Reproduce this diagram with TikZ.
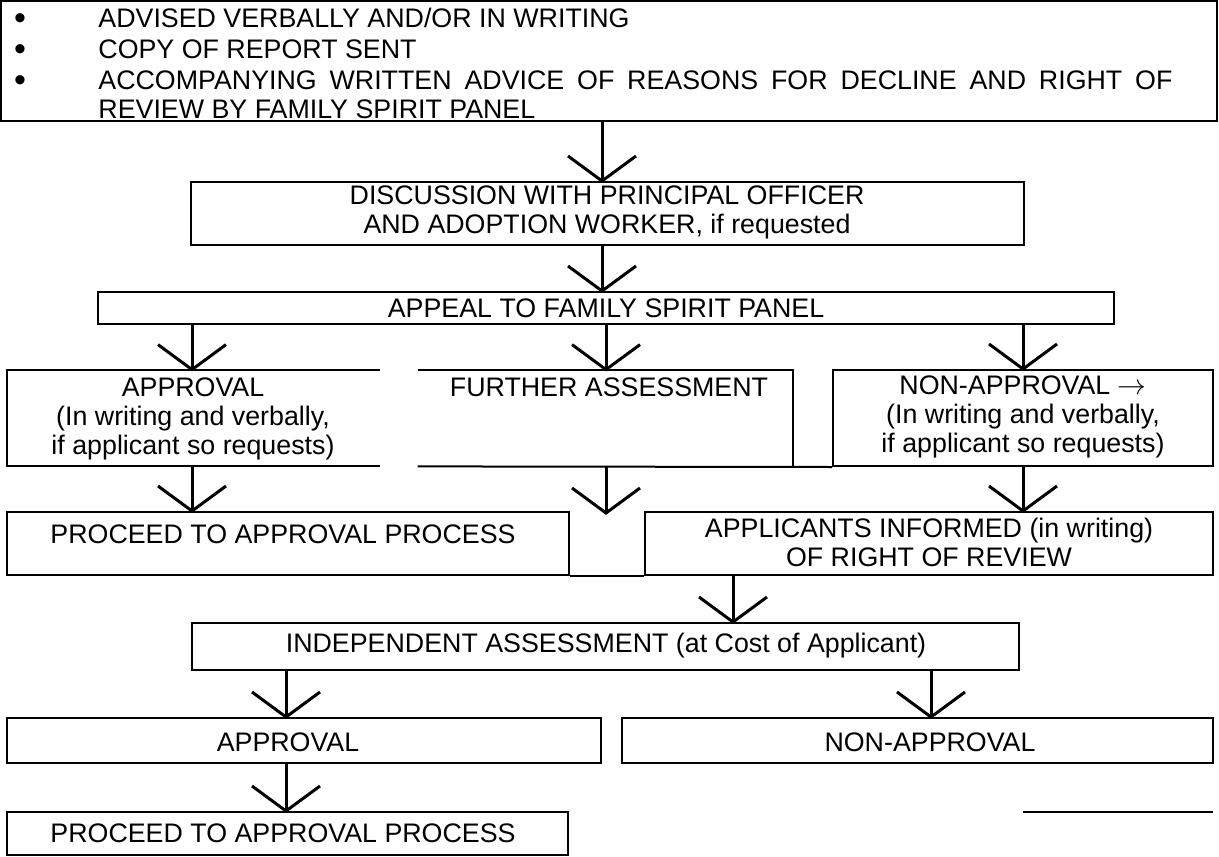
\documentclass[tikz,border=0pt]{standalone}
\usepackage{fontspec}
\setmainfont{Liberation Sans}
\usetikzlibrary{fit,calc}
\newcommand\nohyph{\hyphenpenalty=10000\relax\exhyphenpenalty=10000\relax}
\newcommand\vconn[3]{%
  \draw[vline] (#1.south -| #3) -- (#2.north -| #3);
  \draw[varm] ($(#2.north -| #3)+(-34,-25)$) -- (#2.north -| #3) -- ($(#2.north -| #3)+(34,-25)$);}
\begin{document}
\begin{tikzpicture}[x=0.5pt,y=-0.5pt,
  box/.style={draw, line width=1pt, inner sep=0pt},
  nobox/.style={inner sep=0pt},
  txt/.style={inner sep=0pt, align=center, font=\fontsize{13.4}{14.5}\selectfont},
  ltxt/.style={inner sep=0pt, anchor=west, font=\fontsize{13.4}{14.5}\selectfont},
  bul/.style={inner sep=0pt, text height=11.2pt, text depth=0pt, font=\fontsize{17}{17}\selectfont},
  vline/.style={line width=1.5pt},
  varm/.style={line width=1.5pt, line cap=butt},
  edge/.style={line width=1pt}]
\useasboundingbox (0,0) rectangle (1219,856);

% top box
\node[box, fit={(1,1) (1217,121)}] (top) {};
\node[bul] (b1) at (20,18) {\textbullet};
\node[bul] (b2) at (20,49) {\textbullet};
\node[bul] (b3) at (20,80) {\textbullet};
\node[ltxt] (l1) at (98,18) {ADVISED VERBALLY AND/OR IN WRITING};
\node[ltxt] (l2) at (98,49) {COPY OF REPORT SENT};
\node[inner sep=0pt, anchor=north west, text width=537pt, align=justify,
  font=\fontsize{13.4}{14.5}\selectfont\nohyph] (l3) at (98,70)
  {ACCOMPANYING WRITTEN ADVICE OF REASONS FOR DECLINE AND RIGHT OF REVIEW BY FAMILY SPIRIT PANEL};

% discussion
\node[box, fit={(191,182) (1024,245)}] (disc) {};
\node[txt] (tdisc) at (607,212) {DISCUSSION WITH PRINCIPAL OFFICER\\AND ADOPTION WORKER, if requested};

% appeal
\node[box, fit={(98,292) (1114,324)}] (appeal) {};
\node[txt] (tappeal) at (606,308) {APPEAL TO FAMILY SPIRIT PANEL};

% row 3
\node[nobox, fit={(7,370) (380,466)}] (appr1) {};
\draw[edge] (appr1.north east) -- (appr1.north west) -- (appr1.south west) -- (appr1.south east);
\node[txt] (tappr1) at (193,419) {APPROVAL\\(In writing and verbally,\\if applicant so requests)};

\node[nobox, fit={(418,370) (793,466)}] (further) {};
\node[txt] (tfurther) at (609,387) {FURTHER ASSESSMENT};

\node[box, fit={(833,370) (1213,466)}] (nonappr1) {};
\draw[edge] (further.north west) -- (further.north east) -- (further.south east);
\draw[edge] (further.south west) -- (nonappr1.south west);
\node[txt] (tnonappr1) at (1023,417) {NON-APPROVAL \(\rightarrow\)\\(In writing and verbally,\\if applicant so requests)};

% row 4
\node[box, fit={(7,512) (569,575)}] (proc1) {};
\node[txt] (tproc1) at (283,534) {PROCEED TO APPROVAL PROCESS};
\node[box, fit={(645,512) (1213,575)}] (applic) {};
\draw[edge] (proc1.south east) -- (applic.south west);
\node[txt] (tapplic) at (929,542) {APPLICANTS INFORMED (in writing)\\OF RIGHT OF REVIEW};

% independent
\node[box, fit={(192,623) (1019,670)}] (indep) {};
\node[txt] (tindep) at (606,646) {INDEPENDENT ASSESSMENT (at Cost of Applicant)};

% row 6
\node[box, fit={(7,718) (601,763)}] (appr2) {};
\node[txt] (tappr2) at (288,742) {APPROVAL};
\node[box, fit={(622,718) (1213,763)}] (nonappr2) {};
\node[txt] (tnonappr2) at (930,742) {NON-APPROVAL};

% final
\node[box, fit={(7,812) (568,855)}] (proc2) {};
\node[txt] (tproc2) at (283,833) {PROCEED TO APPROVAL PROCESS};

\coordinate (lineL) at (1023,812);
\coordinate (lineR) at (1213,812);
\draw[edge] (lineL) -- (lineR);

% connector x positions
\coordinate (xa) at (602,0);
\coordinate (xb) at (606,0);
\coordinate (xl) at (192,0);
\coordinate (xr) at (1023,0);
\coordinate (xm) at (733,0);
\coordinate (xc) at (286,0);
\coordinate (xd) at (931,0);
\coordinate (gapend) at (606,513);

\vconn{top}{disc}{xa}
\vconn{disc}{appeal}{xa}
\vconn{appeal}{appr1}{xl}
\vconn{appeal}{further}{xb}
\vconn{appeal}{nonappr1}{xr}
\vconn{appr1}{proc1}{xl}
\vconn{nonappr1}{applic}{xr}
\vconn{applic}{indep}{xm}
\vconn{indep}{appr2}{xc}
\vconn{indep}{nonappr2}{xd}
\vconn{appr2}{proc2}{xc}
\draw[vline] (further.south -| xb) -- (gapend);
\draw[varm] ($(gapend)+(-34,-25)$) -- (gapend) -- ($(gapend)+(34,-25)$);
\end{tikzpicture}
\end{document}
